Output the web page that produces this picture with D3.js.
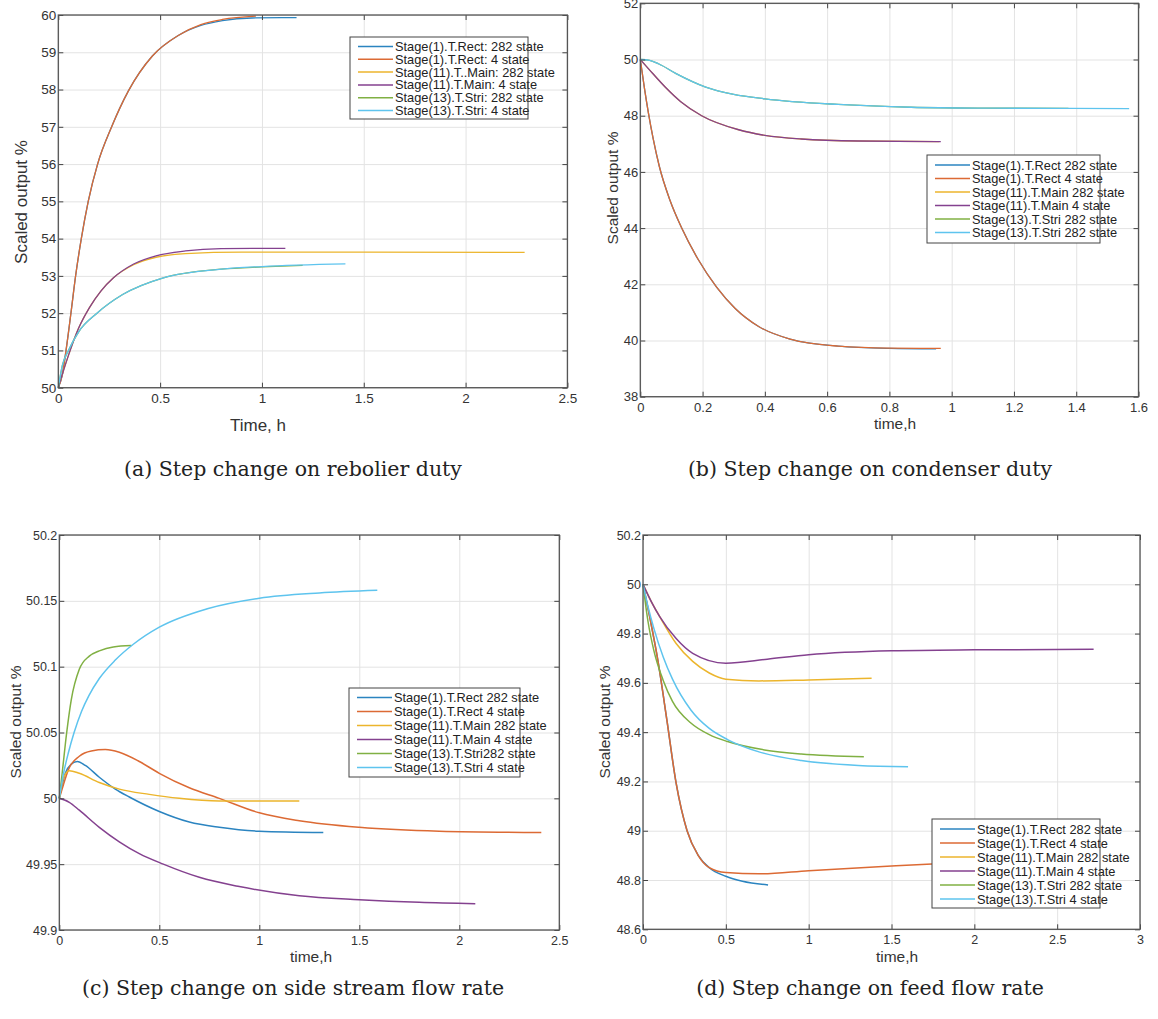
<!DOCTYPE html>
<html>
<head>
<meta charset="utf-8">
<script src="https://cdn.jsdelivr.net/npm/d3@7"></script>
<style>
  body { margin: 0; background: #fff; }
  text { font-family: "Liberation Sans", Arial, sans-serif; }
  .caption { font-family: "DejaVu Serif", serif; }
</style>
</head>
<body>
<div id="chart"></div>
<script>
// ---- data ----
const colors = ["#2b84c0", "#dc6a34", "#ecb52c", "#84418f", "#80b043", "#5ec4ee"];

// (a) step change on reboiler duty
const aLabels = ["Stage(1).T.Rect: 282 state", "Stage(1).T.Rect: 4 state", "Stage(11).T..Main: 282 state",
  "Stage(11).T.Main: 4 state", "Stage(13).T.Stri: 282 state", "Stage(13).T.Stri: 4 state"];
const aXTicks = [0, 0.5, 1, 1.5, 2, 2.5];
const aYTicks = [50, 51, 52, 53, 54, 55, 56, 57, 58, 59, 60];
const aRect282 = [[0,50],[0.02,50.35],[0.038,51],[0.062,52],[0.085,53],[0.113,54],[0.147,55],[0.193,56],[0.262,57],[0.343,57.95],[0.462,58.9],[0.589,59.45],[0.7,59.72],[0.806,59.85],[0.95,59.92],[1.17,59.93]];
const aRect4 = [[0,50],[0.02,50.35],[0.038,51],[0.062,52],[0.085,53],[0.113,54],[0.147,55],[0.193,56],[0.262,57],[0.343,57.95],[0.462,58.9],[0.589,59.45],[0.7,59.74],[0.806,59.88],[0.97,59.97]];
const aMain282 = [[0,50],[0.025,50.45],[0.052,50.9],[0.1,51.6],[0.153,52.15],[0.21,52.6],[0.271,52.95],[0.37,53.3],[0.48,53.5],[0.625,53.6],[0.9,53.64],[1.5,53.64],[2.29,53.63]];
const aMain4 = [[0,50],[0.025,50.45],[0.052,50.9],[0.1,51.6],[0.153,52.15],[0.21,52.6],[0.271,52.95],[0.37,53.32],[0.48,53.54],[0.625,53.67],[0.8,53.73],[1.115,53.74]];
const aStri282 = [[0,50],[0.02,50.6],[0.05,51],[0.1,51.5],[0.19,52],[0.316,52.5],[0.516,52.95],[0.8,53.18],[1.0,53.24],[1.2,53.28]];
const aStri4 = [[0,50],[0.02,50.6],[0.05,51],[0.1,51.5],[0.19,52],[0.316,52.5],[0.516,52.95],[0.8,53.18],[1.0,53.25],[1.41,53.32]];

// (b) step change on condenser duty
const bLabels = ["Stage(1).T.Rect 282 state", "Stage(1).T.Rect 4 state", "Stage(11).T.Main 282 state",
  "Stage(11).T.Main 4 state", "Stage(13).T.Stri 282 state", "Stage(13).T.Stri 282 state"];
const bXTicks = [0, 0.2, 0.4, 0.6, 0.8, 1, 1.2, 1.4, 1.6];
const bYTicks = [38, 40, 42, 44, 46, 48, 50, 52];
const bRect282 = [[0,50],[0.013,49],[0.026,48.1],[0.041,47.2],[0.061,46.2],[0.095,45],[0.133,44],[0.185,42.9],[0.245,41.9],[0.304,41.15],[0.38,40.5],[0.481,40.05],[0.635,39.8],[0.8,39.72],[0.95,39.7]];
const bRect4 = [[0,50],[0.013,49],[0.026,48.1],[0.041,47.2],[0.061,46.2],[0.095,45],[0.133,44],[0.185,42.9],[0.245,41.9],[0.304,41.15],[0.38,40.5],[0.481,40.05],[0.635,39.8],[0.8,39.73],[0.965,39.72]];
const bMain282 = [[0,50],[0.04,49.5],[0.079,49.03],[0.13,48.5],[0.197,48],[0.316,47.5],[0.4,47.3],[0.517,47.17],[0.7,47.1],[0.96,47.08]];
const bMain4 = [[0,50],[0.04,49.5],[0.079,49.03],[0.13,48.5],[0.197,48],[0.316,47.5],[0.4,47.3],[0.517,47.17],[0.7,47.1],[0.965,47.08]];
const bStri282 = [[0,50],[0.03,49.97],[0.06,49.84],[0.115,49.5],[0.21,49.02],[0.3,48.76],[0.4,48.6],[0.635,48.4],[0.87,48.3],[1.1,48.27],[1.375,48.26]];
const bStri4 = [[0,50],[0.03,49.97],[0.06,49.84],[0.115,49.5],[0.21,49.02],[0.3,48.76],[0.4,48.6],[0.635,48.4],[0.87,48.3],[1.1,48.27],[1.375,48.26],[1.57,48.25]];

// (c) step change on side stream flow rate
const cLabels = ["Stage(1).T.Rect 282 state", "Stage(1).T.Rect 4 state", "Stage(11).T.Main 282 state",
  "Stage(11).T.Main 4 state", "Stage(13).T.Stri282 state", "Stage(13).T.Stri 4 state"];
const cXTicks = [0, 0.5, 1, 1.5, 2, 2.5];
const cYTicks = [49.9, 49.95, 50, 50.05, 50.1, 50.15, 50.2];
const cRect282 = [[0,50],[0.03,50.019],[0.06,50.026],[0.09,50.028],[0.13,50.025],[0.2,50.016],[0.28,50.007],[0.35,50.001],[0.5,49.99],[0.65,49.982],[0.8,49.978],[1.0,49.975],[1.32,49.974]];
const cRect4 = [[0,50],[0.02,50.01],[0.046,50.022],[0.1,50.032],[0.16,50.036],[0.23,50.037],[0.3,50.035],[0.4,50.028],[0.5,50.019],[0.65,50.008],[0.8,50.0],[1.0,49.989],[1.2,49.983],[1.5,49.978],[1.9,49.975],[2.41,49.974]];
const cMain282 = [[0,50],[0.02,50.015],[0.05,50.021],[0.1,50.019],[0.2,50.012],[0.3,50.007],[0.45,50.003],[0.6,50.0],[0.8,49.998],[1.2,49.998]];
const cMain4 = [[0,50],[0.05,49.997],[0.1,49.991],[0.2,49.978],[0.3,49.967],[0.4,49.958],[0.52,49.95],[0.7,49.94],[0.9,49.933],[1.2,49.926],[1.5,49.923],[1.8,49.921],[2.08,49.92]];
const cStri282 = [[0,50],[0.015,50.02],[0.037,50.05],[0.06,50.075],[0.1,50.098],[0.15,50.108],[0.2,50.112],[0.27,50.115],[0.36,50.116]];
const cStri4 = [[0,50],[0.02,50.018],[0.046,50.035],[0.074,50.05],[0.111,50.066],[0.148,50.078],[0.2,50.091],[0.28,50.105],[0.37,50.117],[0.5,50.13],[0.74,50.144],[1.0,50.152],[1.3,50.156],[1.59,50.158]];

// (d) step change on feed flow rate
const dLabels = ["Stage(1).T.Rect 282 state", "Stage(1).T.Rect 4 state", "Stage(11).T.Main 282 state",
  "Stage(11).T.Main 4 state", "Stage(13).T.Stri 282 state", "Stage(13).T.Stri 4 state"];
const dXTicks = [0, 0.5, 1, 1.5, 2, 2.5, 3];
const dYTicks = [48.6, 48.8, 49, 49.2, 49.4, 49.6, 49.8, 50, 50.2];
const dRect282 = [[0,50],[0.044,49.856],[0.089,49.694],[0.144,49.45],[0.2,49.193],[0.266,49.0],[0.333,48.9],[0.4,48.85],[0.5,48.815],[0.6,48.795],[0.755,48.78]];
const dRect4 = [[0,50],[0.044,49.856],[0.089,49.694],[0.144,49.45],[0.2,49.193],[0.266,49.0],[0.333,48.9],[0.4,48.85],[0.5,48.83],[0.7,48.825],[1.0,48.838],[1.5,48.857],[1.9,48.87],[2.4,48.88]];
const dMain282 = [[0,50],[0.05,49.93],[0.1,49.87],[0.2,49.76],[0.3,49.687],[0.4,49.64],[0.5,49.615],[0.7,49.608],[1.0,49.612],[1.38,49.619]];
const dMain4 = [[0,50],[0.05,49.93],[0.1,49.87],[0.2,49.78],[0.3,49.72],[0.5,49.68],[0.75,49.696],[1.0,49.714],[1.5,49.73],[2.0,49.734],[2.72,49.736]];
const dStri282 = [[0,50],[0.03,49.85],[0.066,49.73],[0.122,49.61],[0.178,49.525],[0.289,49.437],[0.4,49.39],[0.51,49.362],[0.733,49.328],[0.955,49.311],[1.333,49.3]];
const dStri4 = [[0,50],[0.03,49.91],[0.066,49.82],[0.122,49.705],[0.178,49.615],[0.289,49.49],[0.4,49.415],[0.51,49.37],[0.7,49.32],[0.955,49.285],[1.3,49.265],[1.6,49.26]];

const captions = ["(a) Step change on rebolier duty", "(b) Step change on condenser duty",
  "(c) Step change on side stream flow rate", "(d) Step change on feed flow rate"];

// ---- drawing ----
const svg = d3.select("#chart").append("svg")
  .attr("width", 1158)
  .attr("height", 1019);

const drawPanel = (p) => {
  const x = d3.scaleLinear().domain(p.xDomain).range([p.left, p.right]);
  const y = d3.scaleLinear().domain(p.yDomain).range([p.bottom, p.top]);
  const w = p.right - p.left;
  const h = p.bottom - p.top;
  const g = svg.append("g");

  // grid
  g.append("g")
    .attr("transform", `translate(0,${p.bottom})`)
    .call(d3.axisBottom(x).tickValues(p.xTicks).tickSize(-h).tickFormat(""))
    .call((s) => s.select(".domain").remove())
    .selectAll("line").attr("stroke", "#e3e3e3");
  g.append("g")
    .attr("transform", `translate(${p.left},0)`)
    .call(d3.axisLeft(y).tickValues(p.yTicks).tickSize(-w).tickFormat(""))
    .call((s) => s.select(".domain").remove())
    .selectAll("line").attr("stroke", "#e3e3e3");

  // lines
  const line = d3.line()
    .x((d) => x(d[0]))
    .y((d) => y(d[1]))
    .curve(d3.curveMonotoneX);
  p.series.forEach((s, i) => {
    g.append("path")
      .datum(s)
      .attr("fill", "none")
      .attr("stroke", colors[i])
      .attr("stroke-width", p.lw)
      .attr("d", line);
  });

  // axes, ticks inside on all four sides
  const fmt = (d) => String(+d.toFixed(3));
  const bottom = g.append("g").attr("transform", `translate(0,${p.bottom})`)
    .call(d3.axisBottom(x).tickValues(p.xTicks).tickSizeInner(-5).tickSizeOuter(0).tickPadding(6).tickFormat(fmt));
  const left = g.append("g").attr("transform", `translate(${p.left},0)`)
    .call(d3.axisLeft(y).tickValues(p.yTicks).tickSizeInner(-5).tickSizeOuter(0).tickPadding(2).tickFormat(fmt));
  const top = g.append("g").attr("transform", `translate(0,${p.top})`)
    .call(d3.axisTop(x).tickValues(p.xTicks).tickSizeInner(-5).tickSizeOuter(0).tickFormat(""));
  const right = g.append("g").attr("transform", `translate(${p.right},0)`)
    .call(d3.axisRight(y).tickValues(p.yTicks).tickSizeInner(-5).tickSizeOuter(0).tickFormat(""));
  [bottom, left, top, right].forEach((a) => {
    a.select(".domain").remove();
    a.selectAll("line").attr("stroke", "#444");
    a.selectAll("text")
      .attr("fill", "#333")
      .style("font-size", p.tickFs + "px")
      .style("font-family", '"Liberation Sans", Arial, sans-serif');
  });

  g.append("rect")
    .attr("x", p.left).attr("y", p.top)
    .attr("width", w).attr("height", h)
    .attr("fill", "none")
    .attr("stroke", "#555")
    .attr("stroke-width", 1.3);

  // axis labels
  g.append("text")
    .attr("x", p.xLabel[1]).attr("y", p.xLabel[2])
    .attr("text-anchor", "middle")
    .attr("fill", "#333")
    .style("font-size", p.labelFs + "px")
    .text(p.xLabel[0]);
  g.append("text")
    .attr("transform", `translate(${p.yLabel[0]},${p.yLabel[1]}) rotate(-90)`)
    .attr("text-anchor", "middle")
    .attr("dominant-baseline", "central")
    .attr("fill", "#333")
    .style("font-size", p.labelFs + "px")
    .text("Scaled output %");

  // legend (text runs past the box edge like the original)
  const L = p.legend;
  const lg = g.append("g");
  lg.append("rect")
    .attr("x", L.x).attr("y", L.y)
    .attr("width", L.w).attr("height", L.h)
    .attr("fill", "#fff");
  p.labels.forEach((lab, i) => {
    const ry = L.y + L.pad + i * L.step;
    lg.append("line")
      .attr("x1", L.x + 8).attr("x2", L.x + 43)
      .attr("y1", ry).attr("y2", ry)
      .attr("stroke", colors[i])
      .attr("stroke-width", 1.5);
    lg.append("text")
      .attr("x", L.x + 45).attr("y", ry)
      .attr("dominant-baseline", "central")
      .attr("fill", "#222")
      .style("font-size", L.fs + "px")
      .text(lab);
  });
  lg.append("rect")
    .attr("x", L.x).attr("y", L.y)
    .attr("width", L.w).attr("height", L.h)
    .attr("fill", "none")
    .attr("stroke", "#444")
    .attr("stroke-width", 1);

  // caption
  svg.append("text")
    .attr("class", "caption")
    .attr("x", p.caption[1]).attr("y", p.caption[2])
    .attr("text-anchor", "middle")
    .attr("fill", "#222")
    .style("font-size", "20.5px")
    .text(p.caption[0]);
};

drawPanel({
  left: 58.3, right: 567.4, top: 15, bottom: 387.7,
  xDomain: [0, 2.5], yDomain: [50, 60], xTicks: aXTicks, yTicks: aYTicks,
  series: [aRect282, aRect4, aMain282, aMain4, aStri282, aStri4], labels: aLabels,
  lw: 1.3, tickFs: 13.5, labelFs: 17,
  xLabel: ["Time, h", 258, 431], yLabel: [21, 202],
  legend: { x: 350, y: 37, w: 178, h: 82, pad: 9.5, step: 12.8, fs: 12.8 },
  caption: [captions[0], 293, 476],
});
drawPanel({
  left: 640.3, right: 1138.5, top: 3.3, bottom: 396.7,
  xDomain: [0, 1.6], yDomain: [38, 52], xTicks: bXTicks, yTicks: bYTicks,
  series: [bRect282, bRect4, bMain282, bMain4, bStri282, bStri4], labels: bLabels,
  lw: 1.3, tickFs: 13, labelFs: 15.5,
  xLabel: ["time,h", 895, 429], yLabel: [612.5, 188],
  legend: { x: 927, y: 155, w: 173, h: 88, pad: 10, step: 13.5, fs: 12.8 },
  caption: [captions[1], 870, 476],
});
drawPanel({
  left: 59.3, right: 559.3, top: 535, bottom: 930,
  xDomain: [0, 2.5], yDomain: [49.9, 50.2], xTicks: cXTicks, yTicks: cYTicks,
  series: [cRect282, cRect4, cMain282, cMain4, cStri282, cStri4], labels: cLabels,
  lw: 1.5, tickFs: 12.5, labelFs: 15.5,
  xLabel: ["time,h", 311, 962], yLabel: [15.5, 722],
  legend: { x: 349, y: 688, w: 171, h: 89, pad: 9.5, step: 14, fs: 12.8 },
  caption: [captions[2], 293, 995],
});
drawPanel({
  left: 643, right: 1140, top: 535, bottom: 929.3,
  xDomain: [0, 3], yDomain: [48.6, 50.2], xTicks: dXTicks, yTicks: dYTicks,
  series: [dRect282, dRect4, dMain282, dMain4, dStri282, dStri4], labels: dLabels,
  lw: 1.5, tickFs: 12.5, labelFs: 15.5,
  xLabel: ["time,h", 897, 962], yLabel: [604, 722],
  legend: { x: 932, y: 819, w: 168, h: 89, pad: 10, step: 14, fs: 12.8 },
  caption: [captions[3], 870, 995],
});
</script>
</body>
</html>
